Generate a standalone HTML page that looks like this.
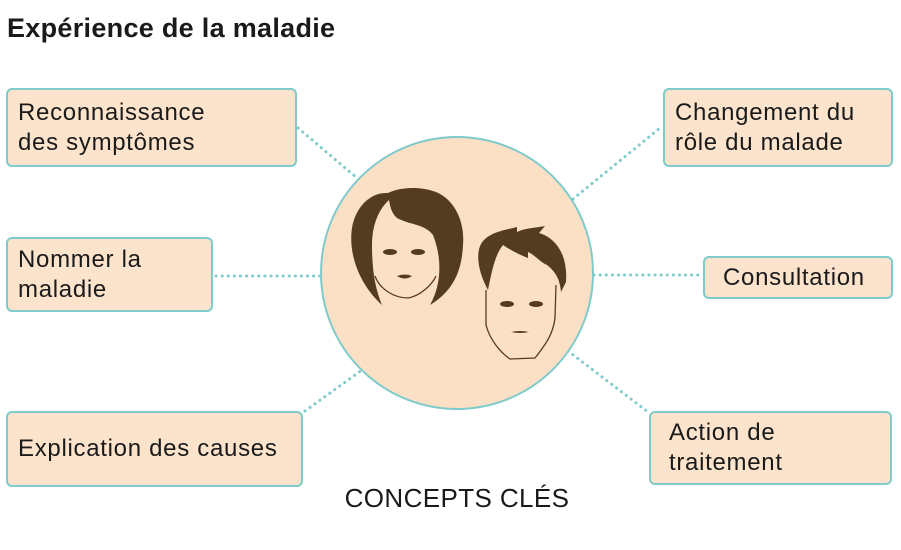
<!DOCTYPE html>
<html><head><meta charset="utf-8"><style>
body{margin:0;width:901px;height:550px;background:#fff;overflow:hidden;position:relative;font-family:"Liberation Sans",sans-serif;}
.t{position:absolute;left:7px;top:13px;font-weight:bold;font-size:27px;letter-spacing:0.3px;color:#1a1a1a;}
.b{position:absolute;box-sizing:border-box;background:#FCE3CC;border:2px solid #7FCACA;border-radius:6px;font-size:24px;letter-spacing:0.7px;line-height:30px;color:#1a1a1a;padding:0 10px;display:flex;align-items:center;}
.c{position:absolute;left:290px;top:483px;width:334px;text-align:center;font-size:26px;letter-spacing:0.4px;color:#1a1a1a;}
svg{position:absolute;left:0;top:0;}
</style></head><body>
<svg width="901" height="550">
<g stroke="#7FCACA" stroke-width="3" stroke-dasharray="0.1 6" stroke-linecap="round" fill="none">
<line x1="298" y1="128" x2="357" y2="178"/>
<line x1="216" y1="276" x2="320" y2="276"/>
<line x1="305" y1="411" x2="362" y2="370"/>
<line x1="573" y1="199" x2="660" y2="128"/>
<line x1="594" y1="275" x2="700" y2="275"/>
<line x1="568" y1="351" x2="648" y2="412"/>
</g>
<circle cx="457" cy="273" r="136" fill="#FBE0C6" stroke="#7FCACA" stroke-width="2"/>
<g fill="#533C20">
<path d="M382 305 C360 285 348 255 352 228 C356 205 372 192 388 193 C400 187 420 186 436 192 C455 200 465 222 463 245 C462 268 455 290 430 305 C443 282 441 255 433 235 C425 224 410 225 397 218 C391 213 390 205 389 200 C378 210 372 226 372 245 C372 270 375 288 382 305Z"/>
<path d="M488 290 C478 272 474 250 484 240 C492 232 505 230 517 227 L517 232 C525 228 535 228 545 226 L539 233 C556 238 568 255 566 282 L561 292 C560 280 556 272 547 265 C540 262 535 255 528 252 L528 258 C520 255 510 250 503 245 C495 255 492 270 488 290Z"/>
<ellipse cx="390" cy="252" rx="7" ry="3"/><ellipse cx="418" cy="252" rx="7" ry="3"/>
<path d="M397 276 Q405 273 412 276 Q405 281 397 276Z"/>
<ellipse cx="507" cy="304" rx="7" ry="3"/><ellipse cx="536" cy="304" rx="7" ry="3"/>
<path d="M511 332 Q520 330 529 332 Q520 334 511 332Z"/>
</g>
<g fill="none" stroke="#533C20" stroke-width="1.3">
<path d="M375 276 C380 290 395 298 408 298 C420 296 432 285 436 276"/>
<path d="M486 290 L486 325 C490 340 500 352 510 359 L535 358 C545 345 553 335 555 318 L556 285"/>
</g>
</svg>
<div class="t">Expérience de la maladie</div>
<div class="b" style="left:6px;top:88px;width:291px;height:79px;">Reconnaissance<br>des symptômes</div>
<div class="b" style="left:6px;top:237px;width:207px;height:75px;">Nommer la<br>maladie</div>
<div class="b" style="left:6px;top:411px;width:297px;height:76px;">Explication des causes</div>
<div class="b" style="left:663px;top:88px;width:230px;height:79px;">Changement du<br>rôle du malade</div>
<div class="b" style="left:703px;top:256px;width:190px;height:43px;padding-left:18px;">Consultation</div>
<div class="b" style="left:649px;top:411px;width:243px;height:74px;padding-left:18px;">Action de<br>traitement</div>
<div class="c">CONCEPTS CLÉS</div>
</body></html>
